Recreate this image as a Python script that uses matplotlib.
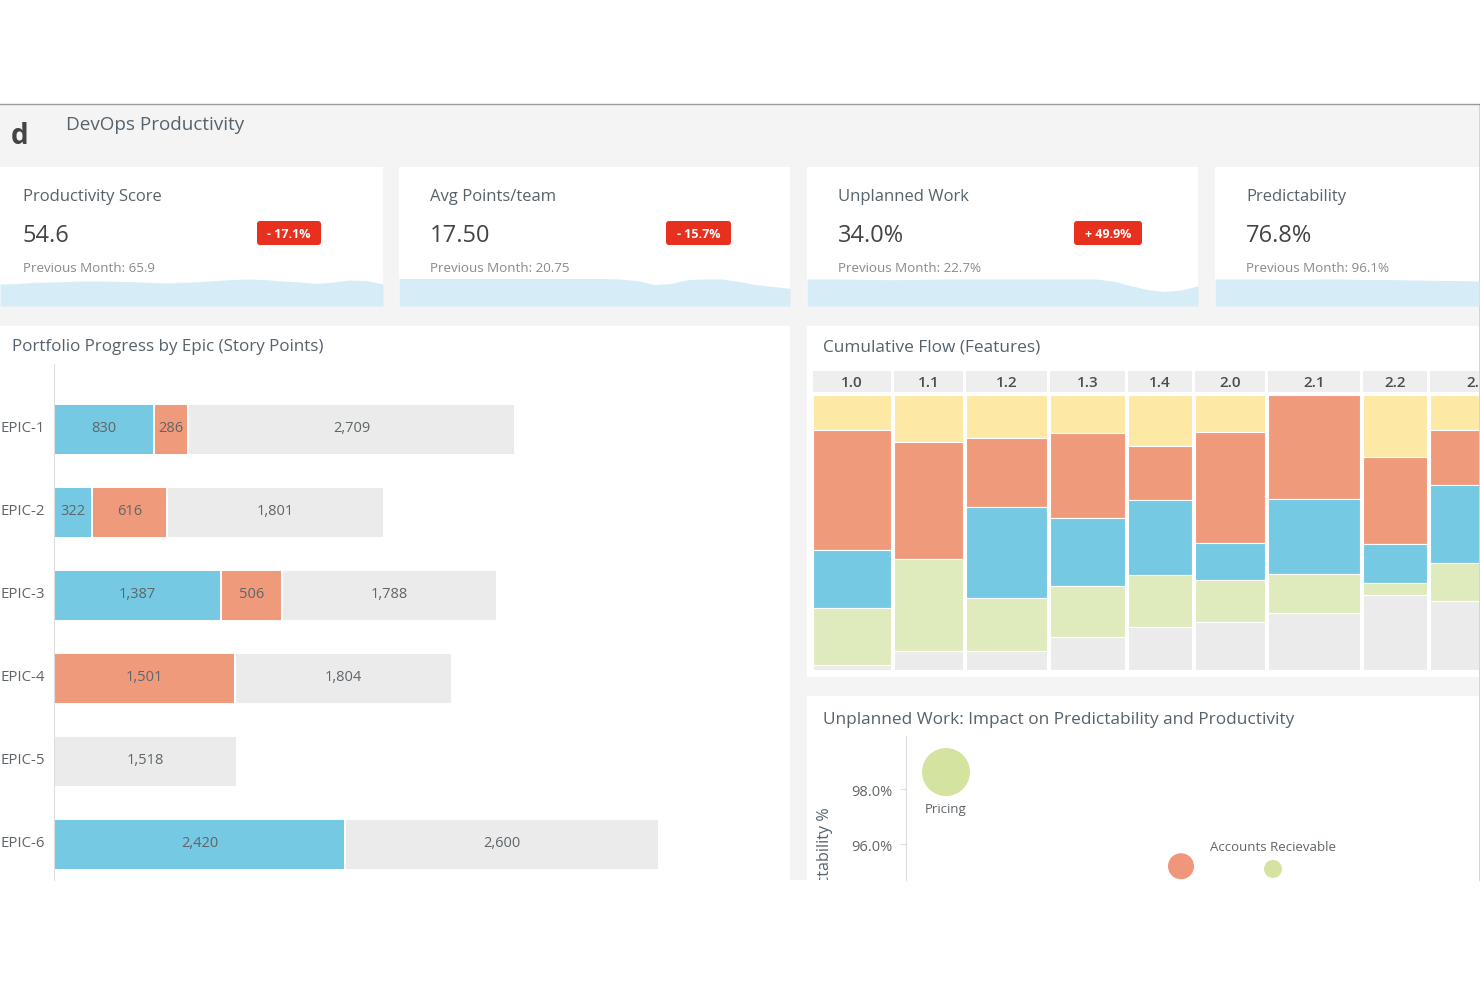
import numpy as np
import matplotlib
matplotlib.use("Agg")
import matplotlib.pyplot as plt
from matplotlib.patches import Rectangle, FancyBboxPatch
from matplotlib.transforms import Bbox, ScaledTranslation

plt.rcParams['font.family'] = ['Open Sans', 'DejaVu Sans']

W, H = 1480, 987

# kpi cards
kpi_titles = ["Productivity Score", "Avg Points/team", "Unplanned Work", "Predictability"]
kpi_values = ["54.6", "17.50", "34.0%", "76.8%"]
kpi_prev = ["Previous Month: 65.9", "Previous Month: 20.75", "Previous Month: 22.7%", "Previous Month: 96.1%"]
kpi_badges = ["- 17.1%", "- 15.7%", "+ 49.9%", None]
spark_1 = [22, 22.5, 23.5, 24, 24.5, 25, 25, 24.7, 24.3, 23.5, 23, 23.7, 24.5, 25.5, 26.5, 27, 26.3, 25, 24, 22.5, 24, 26, 25.5, 22]
spark_2 = [27.5, 27.5, 27.5, 27.5, 27.5, 27.5, 27.5, 27.5, 27.5, 27.5, 27.5, 27.5, 27.5, 27, 25.5, 21.5, 22.5, 26.5, 27, 27, 24.5, 21.5, 19.5, 17.7]
spark_3 = [27, 27, 27, 26.7, 26.5, 26.3, 26.5, 26.7, 27, 27, 27, 27, 27, 27, 27, 27, 27, 27, 25, 20.5, 16.5, 14.5, 16, 20.3]
spark_4 = [27, 27, 27, 27, 27, 26.7, 26.5, 26.5, 26.7, 27, 27, 27, 26.7, 26.5, 26.5, 26.5, 26.3, 26, 26, 25.7, 25.5, 25.5, 25.3, 25]

# portfolio progress
epics = ["EPIC-1", "EPIC-2", "EPIC-3", "EPIC-4", "EPIC-5", "EPIC-6"]
epic_done = [830, 322, 1387, 0, 0, 2420]
epic_doing = [286, 616, 506, 1501, 0, 0]
epic_todo = [2709, 1801, 1788, 1804, 1518, 2600]

# cumulative flow, heights
releases = ["1.0", "1.1", "1.2", "1.3", "1.4", "2.0", "2.1", "2.2", "2.3"]
release_width = [78, 69, 81, 75, 64, 70, 92, 64, 94]
flow_yellow = [35, 47, 43, 38, 51, 37, 0, 62, 35]
flow_orange = [120, 117, 69, 85, 54, 111, 104, 87, 55]
flow_blue = [58, 0, 91, 68, 75, 37, 75, 39, 78]
flow_green = [57, 92, 53, 51, 52, 42, 39, 12, 38]
flow_gray = [5, 19, 19, 33, 43, 48, 57, 75, 69]

# bubble chart
bubble_names = ["Pricing", "", "Accounts Recievable"]
bubble_unplanned = [4.0, 27.5, 36.7]
bubble_predict = [98.62, 95.2, 95.1]
bubble_size = [48, 26, 18]
bubble_colors = ["#d5e3a0", "#f0967a", "#d5e3a0"]

BLUE = "#76c9e3"
ORANGE = "#f09a7c"
YELLOW = "#fde9a5"
GREEN = "#dfeabd"
GRAY = "#ebebeb"
TITLE = "#56626c"
LABEL = "#5f6569"


def px_axes(x0, y0, x1, y1):
    # axes from picture pixels, y going down
    ax = fig.add_axes([x0 / W, 1 - y1 / H, (x1 - x0) / W, (y1 - y0) / H])
    ax.patch.set_alpha(0)
    return ax


fig = plt.figure(figsize=(W / 100, H / 100), dpi=100, facecolor="white")

page = px_axes(0, 0, W, H)
page.set_xlim(0, W)
page.set_ylim(H, 0)
page.axis("off")
page.add_patch(Rectangle((0, 105), W, 776, fc="#f4f4f4", ec="none"))
page.plot([0, W], [104.5, 104.5], color="#9a9a9a", lw=1)
page.plot([1479.5, 1479.5], [105, 881], color="#555555", lw=1)

card_x = [(0, 383), (399, 790), (807, 1198), (1215, 1479)]
for x0, x1 in card_x:
    page.add_patch(Rectangle((x0, 167.5), x1 - x0, 139.5, fc="white", ec="none"))
page.add_patch(Rectangle((0, 326.5), 790, 554.5, fc="white", ec="none"))
page.add_patch(Rectangle((807, 326.5), 672, 351.5, fc="white", ec="none"))
page.add_patch(Rectangle((807, 697), 672, 184, fc="white", ec="none"))

page.text(66, 125, "DevOps Productivity", fontsize=13.6, color=TITLE, va="center")
page.text(20, 136, "d", fontsize=20, fontweight="bold", color="#444444", ha="center", va="center")

badge_box = [(257, 321), (666, 731), (1074, 1142)]
sparks = [spark_1, spark_2, spark_3, spark_4]
for i, (x0, x1) in enumerate(card_x):
    tx = x0 + 23 + (8 if i else 0)
    page.text(tx, 197, kpi_titles[i], fontsize=12, color=TITLE, va="center")
    page.text(tx, 236, kpi_values[i], fontsize=17, color="#444444", va="center")
    page.text(tx, 269, kpi_prev[i], fontsize=9.6, color="#8a8a8a", va="center")
    if kpi_badges[i]:
        bx0, bx1 = badge_box[i]
        page.add_patch(FancyBboxPatch((bx0 + 3, 225), bx1 - bx0 - 6, 18,
                                      boxstyle="round,pad=3,rounding_size=3", fc="#e8301f", ec="none"))
        page.text((bx0 + bx1) / 2, 235, kpi_badges[i], fontsize=9, fontweight="bold", color="white", ha="center", va="center")
    sp = px_axes(x0, 275, x1, 307)
    sp.fill_between(range(len(sparks[i])), sparks[i], 0, color="#d6edf8", lw=0)
    sp.set_xlim(0, len(sparks[i]) - 1)
    sp.set_ylim(0, 32)
    sp.axis("off")

page.text(12, 347, "Portfolio Progress by Epic (Story Points)", fontsize=12.25, color=TITLE, va="center")
page.text(823, 347, "Cumulative Flow (Features)", fontsize=12.4, color=TITLE, va="center")
page.text(823, 720, "Unplanned Work: Impact on Predictability and Productivity", fontsize=12.4, color=TITLE, va="center")

# horizontal stacked bars
ax = px_axes(53.5, 365, 790, 881)
pos = np.arange(len(epics))
done = np.array(epic_done)
doing = np.array(epic_doing)
todo = np.array(epic_todo)
bar_h = 50.5 / 83
for vals, left, col in [(done, 0, BLUE), (doing, done, ORANGE), (todo, done + doing, GRAY)]:
    bars = ax.barh(pos, vals, left=left, height=bar_h, color=col, edgecolor="white", linewidth=1.4)
    texts = ax.bar_label(bars, labels=[f"{v:,}" if v else "" for v in vals], label_type="center",
                         fontsize=10.5, color=LABEL)
    for t in texts:
        t.xyann = (0, 1.5)
ax.set_xlim(0, 736.5 / 0.1206)
ax.set_ylim(5.428, -0.789)
ax.set_yticks(pos, epics)
ax.set_xticks([])
ax.tick_params(axis="y", length=0, pad=6, labelsize=10.8, labelcolor=LABEL)
shift_up = ScaledTranslation(0, 1.5 / 100, fig.dpi_scale_trans)
for t in ax.get_yticklabels():
    t.set_va("center")
    t.set_transform(t.get_transform() + shift_up)
for s in ["top", "right", "bottom"]:
    ax.spines[s].set_visible(False)
ax.spines["left"].set_color("#dddddd")

# marimekko of cumulative flow
cf = px_axes(813, 372, 1479, 671)
gap = 3
widths = np.array(release_width)
lefts = np.concatenate([[0], np.cumsum(widths + gap)[:-1]])
bottom = np.zeros(len(releases))
cf.bar(lefts, 21, width=widths, bottom=-24, align="edge", color="#eeeeee", linewidth=0)
for vals, col in [(flow_yellow, YELLOW), (flow_orange, ORANGE), (flow_blue, BLUE), (flow_green, GREEN), (flow_gray, GRAY)]:
    cf.bar(lefts, vals, width=widths, bottom=bottom, align="edge", color=col, edgecolor="white", linewidth=0.8)
    bottom += np.array(vals)
for left, w, name in zip(lefts, widths, releases):
    cf.text(left + w / 2, -13, name, ha="center", va="center", fontsize=11, fontweight="semibold",
            color="#4a4f52", clip_on=True)
cf.set_xlim(0, 666)
cf.set_ylim(275, -24)
cf.axis("off")

# bubbles
bb = px_axes(906, 737, 1479, 881)
sizes = [(d * 0.72) ** 2 for d in bubble_size]
bb.scatter(bubble_unplanned, bubble_predict, s=sizes, c=bubble_colors, linewidths=0)
bb.set_xlim(0, 57.3)
bb.set_ylim(94.70, 99.93)
bb.set_yticks([96, 98], ["96.0%", "98.0%"])
bb.set_xticks([])
bb.tick_params(axis="y", length=4, color="#dddddd", pad=6, labelsize=10.5, labelcolor=LABEL)
for s in ["top", "right", "bottom"]:
    bb.spines[s].set_visible(False)
bb.spines["left"].set_color("#dddddd")
bb.annotate(bubble_names[0], (bubble_unplanned[0], bubble_predict[0]), xytext=(0, -26), textcoords="offset points",
            ha="center", va="center", fontsize=9.5, color=LABEL)
bb.annotate(bubble_names[2], (bubble_unplanned[2], bubble_predict[2]), xytext=(0, 16), textcoords="offset points",
            ha="center", va="center", fontsize=9.5, color=LABEL)

ylab = page.text(825, 807, "Predictability %", rotation=90, fontsize=11.6, fontweight="medium", color=TITLE,
                 ha="center", va="top", rotation_mode="default", clip_on=True)
ylab.set_clip_box(Bbox([[807, H - 881], [W, H - 697]]))

fig.savefig("out.png", dpi=100)
